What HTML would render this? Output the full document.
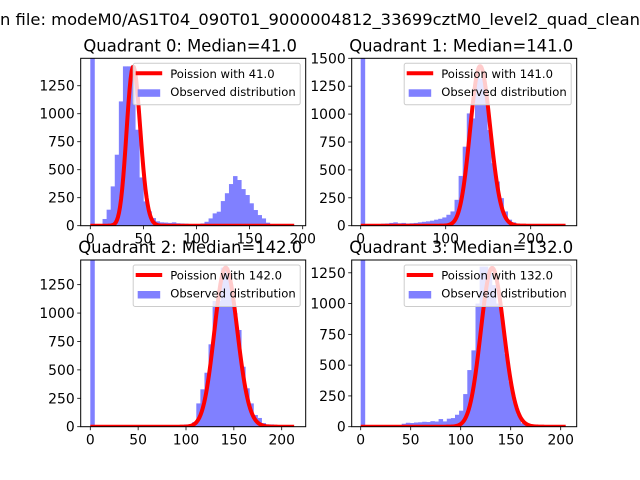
<!DOCTYPE html>
<html><head><meta charset="utf-8"><style>
html,body{margin:0;padding:0;background:#fff;}
svg{display:block;font-family:"DejaVu Sans","Liberation Sans",sans-serif;}
</style></head><body>
<svg id="fig" width="640" height="480" viewBox="0 0 640 480" xmlns="http://www.w3.org/2000/svg">
<rect x="0" y="0" width="640" height="480" fill="#fff"/>
<text x="0" y="25" font-size="16" textLength="640" lengthAdjust="spacingAndGlyphs">n file: modeM0/AS1T04_090T01_9000004812_33699cztM0_level2_quad_clean</text>
</svg>
<script>
const titles = ["Quadrant 0: Median=41.0","Quadrant 1: Median=141.0","Quadrant 2: Median=142.0","Quadrant 3: Median=132.0"];
const lambdas = [41.0, 141.0, 142.0, 132.0];
const poissonScale = [22790, 42560, 41820, 37150];
const binWidths = [3.84, 4.8, 4.26, 4.1];
const lineXMax = [192, 241, 213, 205];
const counts0 = [3000,0,15,60,143,351,634,1110,1423,1423,1380,857,431,217,128,68,39,30,28,25,30,22,20,18,15,15,15,20,35,65,110,125,220,290,372,443,408,327,274,200,140,95,65,27,15,10,8,5,5,3];
const counts1 = [3000,5,12,15,15,18,20,25,30,22,25,20,22,25,30,35,39,45,54,62,74,98,128,232,446,708,1006,961,1330,1320,1250,857,560,396,247,128,54,30,18,12,8,6,5,4,3,2,2,1,1,0];
const counts2 = [3000,0,0,0,0,0,0,0,0,0,0,0,0,0,0,0,0,0,0,0,0,15,10,20,20,40,205,329,475,725,1106,1106,1400,1400,1250,998,851,528,338,205,103,77,32,20,20,10,5,3,2,1];
const counts3 = [3000,0,0,0,0,0,0,0,0,5,24,32,30,34,36,40,38,45,42,62,43,65,70,97,130,265,460,620,1000,1300,1300,1250,1150,1000,865,590,365,203,95,28,14,8,5,3,2,1,1,0,0,0];
const yTicks0 = [0,250,500,750,1000,1250];
const yTicks1 = [0,250,500,750,1000,1250,1500];
const yTicks2 = [0,250,500,750,1000,1250];
const yTicks3 = [0,250,500,750,1000,1250];
const xTicks0 = [0,50,100,150,200];
const xTicks1 = [0,100,200];
const xTicks2 = [0,50,100,150,200];
const xTicks3 = [0,50,100,150,200];

const allCounts=[counts0,counts1,counts2,counts3];
const allY=[yTicks0,yTicks1,yTicks2,yTicks3];
const allX=[xTicks0,xTicks1,xTicks2,xTicks3];
const boxes=[{l:80.7,t:58.3,r:305.7,b:225.7,x0:90.3,sx:1.062,ymax:1495},
             {l:351.7,t:58.3,r:576.7,b:225.7,x0:360.7,sx:0.85,ymax:1500},
             {l:80.7,t:260,r:305.7,b:426.7,x0:90.3,sx:0.957,ymax:1467},
             {l:351.7,t:260,r:576.7,b:426.7,x0:360.7,sx:1.0,ymax:1354}];
const NS="http://www.w3.org/2000/svg";
const svg=document.getElementById('fig');
function mk(tag,attrs,parent){const e=document.createElementNS(NS,tag);for(const k in attrs)e.setAttribute(k,attrs[k]);(parent||svg).appendChild(e);return e;}
function lgf(n){let s=0;for(let i=2;i<=n;i++)s+=Math.log(i);return s;}
function pois(k,l){return Math.exp(k*Math.log(l)-l-lgf(k));}

boxes.forEach((B,q)=>{
  const xs=v=>B.x0+v*B.sx;
  const ys=v=>B.b-(v/B.ymax)*(B.b-B.t);
  const g=mk('g',{});
  
  
  const cp=mk('clipPath',{id:'clip'+q},g);
  mk('rect',{x:B.l,y:B.t,width:B.r-B.l,height:B.b-B.t},cp);
  const plot=mk('g',{'clip-path':'url(#clip'+q+')'},g);
  const w=binWidths[q];
  allCounts[q].forEach((c,i)=>{
    const x1=xs(i*w),x2=xs((i+1)*w),y=ys(c);
    const r=mk('rect',{x:x1,y:y,width:x2-x1+0.4,height:B.b-y,fill:'#8080ff'},plot);
    
    
  });
  let d='';
  for(let k=0;k<=lineXMax[q];k++){const v=poissonScale[q]*pois(k,lambdas[q]);d+=(k?'L':'M')+xs(k).toFixed(2)+','+ys(v).toFixed(2);}
  const pl=mk('path',{d:d,fill:'none',stroke:'#ff0000','stroke-width':4,'stroke-linejoin':'round'},plot);
  
  
  const fr=mk('rect',{x:B.l,y:B.t,width:B.r-B.l,height:B.b-B.t,fill:'none',stroke:'#000','stroke-width':1},g);
  
  
  allY[q].forEach(v=>{
    const y=ys(v);
    mk('line',{x1:B.l-3.5,x2:B.l,y1:y,y2:y,stroke:'#000','stroke-width':0.8},g);
    const t=mk('text',{x:B.l-6,y:y+5,'font-size':13.9,'text-anchor':'end'},g);
    t.textContent=v;
    
    
  });
  allX[q].forEach(v=>{
    const x=xs(v);
    mk('line',{x1:x,x2:x,y1:B.b,y2:B.b+3.5,stroke:'#000','stroke-width':0.8},g);
    const t=mk('text',{x:x,y:B.b+18,'font-size':13.9,'text-anchor':'middle'},g);
    t.textContent=v;
    
    
  });
  const tt=mk('text',{x:(B.l+B.r)/2-3,y:B.t-7,'font-size':16.4,'text-anchor':'middle'},g);
  tt.textContent=titles[q];
  
  
  const lx=B.r-172.5,ly=B.t+5;
  const lg=mk('g',{},g);
  
  
  mk('rect',{x:lx,y:ly,width:167,height:41.5,rx:2,fill:'#fff','fill-opacity':0.8,stroke:'#cccccc','stroke-width':1},lg);
  mk('line',{x1:lx+2.5,x2:lx+29,y1:ly+10,y2:ly+10,stroke:'#ff0000','stroke-width':4},lg);
  const t1=mk('text',{x:lx+37,y:ly+14.5,'font-size':11.6},lg);
  t1.textContent='Poission with '+lambdas[q].toFixed(1);
  
  
  mk('rect',{x:lx+4.5,y:ly+26,width:22.5,height:7.5,fill:'#8080ff'},lg);
  const t2=mk('text',{x:lx+37,y:ly+32.5,'font-size':11.6},lg);
  t2.textContent='Observed distribution';
  
  
});
</script>
</body></html>
